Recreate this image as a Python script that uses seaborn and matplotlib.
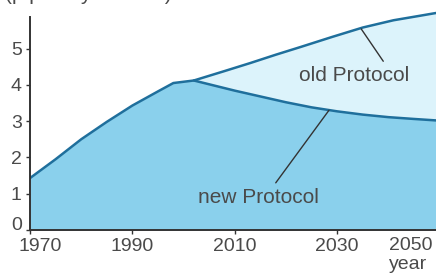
import matplotlib
matplotlib.use("Agg")
import matplotlib.pyplot as plt
import matplotlib.transforms as mtransforms
import seaborn as sns
import pandas as pd

# shared history up to the split, then the two projections
hist_years = [1970, 1975, 1980, 1985, 1990, 1995, 1998, 2002]
hist_values = [1.43, 1.95, 2.5, 2.98, 3.43, 3.82, 4.05, 4.12]
new_years = [2002, 2006, 2010, 2015, 2020, 2025, 2030, 2035, 2040, 2045, 2049.3]
new_values = [4.12, 3.98, 3.84, 3.68, 3.52, 3.38, 3.27, 3.18, 3.11, 3.06, 3.02]
old_years = [2002, 2008, 2013, 2018, 2023, 2029, 2035, 2041, 2046, 2049.3]
old_values = [4.12, 4.38, 4.6, 4.83, 5.05, 5.32, 5.58, 5.78, 5.9, 5.98]
x_ticks = [1970, 1990, 2010, 2030]
y_ticks = [0, 1, 2, 3, 4, 5]

LINE = "#1f6f9c"
DARK_FILL = "#8ad0ec"
LIGHT_FILL = "#dcf3fb"
TEXT = "#4a4a4a"


def main():
    sns.set_style("ticks")
    plt.rcParams["font.family"] = ["Liberation Sans", "DejaVu Sans"]

    fig = plt.figure(figsize=(4.36, 2.75), dpi=100)
    ax = fig.add_axes([30 / 436, 45 / 275, 406 / 436, 217 / 275])

    new_df = pd.DataFrame({"year": hist_years + new_years[1:],
                           "value": hist_values + new_values[1:]})
    old_df = pd.DataFrame({"year": old_years, "value": old_values})

    # light region between the two projections, then the darker new-protocol area
    old_on_new = pd.Series(old_values, index=old_years).reindex(
        sorted(set(old_years) | set(new_years))).interpolate(method="index")
    new_on_old = pd.Series(new_values, index=new_years).reindex(old_on_new.index).interpolate(method="index")
    ax.fill_between(old_on_new.index, new_on_old.values, old_on_new.values, color=LIGHT_FILL, lw=0)
    ax.fill_between(new_df["year"], 0, new_df["value"], color=DARK_FILL, lw=0)

    sns.lineplot(data=new_df, x="year", y="value", color=LINE, lw=1.8, ax=ax)
    sns.lineplot(data=old_df, x="year", y="value", color=LINE, lw=1.8, ax=ax, clip_on=False)

    ax.set_xlim(1970, 2049.3)
    ax.set_ylim(0, 5.98)
    ax.spines["left"].set_bounds(0, 5.86)
    sns.despine(ax=ax)
    for s in ["left", "bottom"]:
        ax.spines[s].set_color("#333333")
        ax.spines[s].set_linewidth(1.4)
    ax.set_xticks(x_ticks)
    ax.set_yticks(y_ticks)
    ax.tick_params(length=3, width=1, colors="#333333", labelcolor=TEXT, labelsize=14, pad=3)
    ax.set_xlabel("")
    ax.set_ylabel("")

    # nudge the corner labels apart like the original
    fig.canvas.draw()
    first_x = ax.get_xticklabels()[0]
    first_x.set_transform(first_x.get_transform() + mtransforms.ScaledTranslation(10 / 100, 0, fig.dpi_scale_trans))
    first_y = ax.get_yticklabels()[0]
    first_y.set_transform(first_y.get_transform() + mtransforms.ScaledTranslation(0, 6 / 100, fig.dpi_scale_trans))

    # 2050 label sits inside the right edge, with the axis name under it
    trans = mtransforms.blended_transform_factory(ax.transData, ax.transAxes)
    ax.text(2048.6, -0.03, "2050", transform=trans, ha="right", va="top", fontsize=14, color=TEXT)
    ax.text(2047.5, -0.12, "year", transform=trans, ha="right", va="top", fontsize=14, color=TEXT)

    # leaders and labels
    ax.plot([2034.7, 2039.0], [5.54, 4.65], color="#333333", lw=1)
    ax.text(2033.3, 4.27, "old Protocol", ha="center", va="center", fontsize=15, color=TEXT)
    ax.plot([2028.4, 2018.0], [3.30, 1.30], color="#333333", lw=1)
    ax.text(2014.7, 0.89, "new Protocol", ha="center", va="center", fontsize=15, color=TEXT)

    # units line is mostly cut off by the top edge in the original
    fig.text(5 / 436, 1.0, "(p.p.b. by volume)", ha="left", va="baseline", fontsize=15, color=TEXT)

    fig.savefig("out.png", dpi=100)


if __name__ == "__main__":
    main()
